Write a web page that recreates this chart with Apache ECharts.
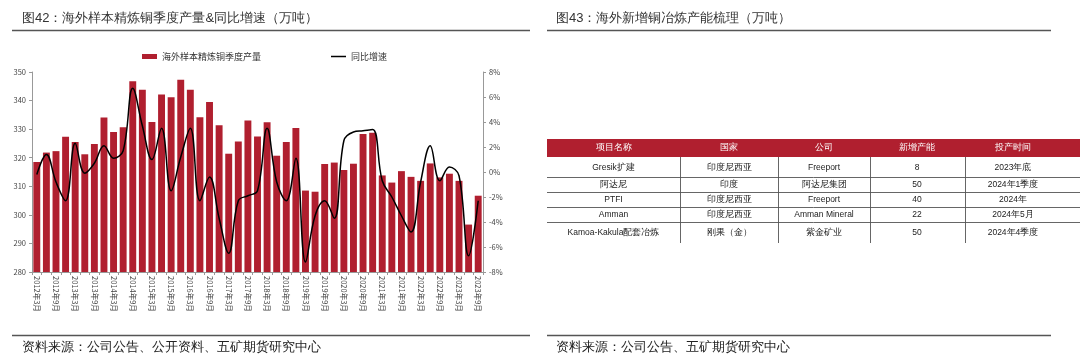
<!DOCTYPE html>
<html>
<head>
<meta charset="utf-8">
<script src="https://cdn.jsdelivr.net/npm/echarts@6/dist/echarts.min.js"></script>
<style>
html,body{margin:0;padding:0;background:#fff;}
#c{width:1080px;height:359px;}
</style>
</head>
<body>
<div id="c"></div>
<script>
// ---- data ----
var quarters = [];
(function(){
  for (var y = 2012; y <= 2023; y++) {
    for (var m = 3; m <= 12; m += 3) {
      if (y === 2023 && m > 9) break;
      quarters.push(y + '年' + m + '月');
    }
  }
})();
var outputValues = [318.5,321.8,322.3,327.3,325.5,321.2,324.8,334.1,329.0,330.7,346.8,343.8,332.5,342.1,341.2,347.3,
  343.8,334.2,339.5,331.4,321.4,325.7,333.0,327.4,332.4,320.7,325.5,330.4,308.5,308.1,317.8,318.3,
  315.7,317.9,328.3,328.7,313.8,311.3,315.3,313.3,311.9,318.0,313.1,314.4,311.9,296.6,306.7];
var yoyValues = [-0.2,1.4,-0.8,-2.3,2.3,-0.1,0.7,2.1,1.1,1.7,6.7,3.7,1.0,3.5,-1.5,1.2,
  3.5,-2.3,-0.4,-3.7,-6.5,-2.3,-1.9,-1.5,3.5,-0.8,-2.3,1.1,-7.2,-3.5,-2.3,-3.7,
  2.5,3.2,3.3,3.4,-0.7,-2.0,-3.5,-4.8,-0.8,2.1,-0.7,0.4,-0.3,-6.7,-2.3];
var seriesNames = ['海外样本精炼铜季度产量', '同比增速'];
var tableHeader = ['项目名称', '国家', '公司', '新增产能', '投产时间'];
var tableRows = [
  ['Gresik扩建', '印度尼西亚', 'Freeport', '8', '2023年底'],
  ['阿达尼', '印度', '阿达尼集团', '50', '2024年1季度'],
  ['PTFI', '印度尼西亚', 'Freeport', '40', '2024年'],
  ['Amman', '印度尼西亚', 'Amman Mineral', '22', '2024年5月'],
  ['Kamoa-Kakula配套冶炼', '刚果（金）', '紫金矿业', '50', '2024年4季度']
];
var leftTitle = '图42：海外样本精炼铜季度产量&同比增速（万吨）';
var rightTitle = '图43：海外新增铜冶炼产能梳理（万吨）';
var leftSource = '资料来源：公司公告、公开资料、五矿期货研究中心';
var rightSource = '资料来源：公司公告、五矿期货研究中心';

// ---- layout ----
var FONT = '"Noto Sans CJK SC", "Noto Sans", sans-serif';
var RED = '#B01F2F';
var graphics = [];
function txt(x, y, s, size, color, align, weight) {
  graphics.push({type:'text', x:x, y:y, style:{text:s, fontSize:size, fill:color, font: (weight||'normal') + ' ' + size + 'px ' + FONT, textAlign:align||'left', textVerticalAlign:'middle'}});
}
function line(x1, y1, x2, y2, color, w) {
  graphics.push({type:'line', shape:{x1:x1,y1:y1,x2:x2,y2:y2}, style:{stroke:color, lineWidth:w}});
}
// titles & rules
txt(22, 18, leftTitle, 13, '#333');
line(12, 30.5, 530, 30.5, '#555', 1.5);
line(12, 335.5, 530, 335.5, '#555', 1.5);
txt(22, 348, leftSource, 12.5, '#222');
txt(556, 18, rightTitle, 13, '#333');
line(547, 30.5, 1051, 30.5, '#555', 1.5);
line(547, 335.5, 1051, 335.5, '#555', 1.5);
txt(556, 348, rightSource, 12.5, '#222');

// table
var colBounds = [547, 680, 778, 870, 965];
var colCenters = [613.5, 729, 824, 917, 1013];
var rowBounds = [157, 177, 192, 207, 222, 243];
graphics.push({type:'rect', shape:{x:547, y:139, width:533, height:18}, style:{fill:RED}});
tableHeader.forEach(function(h, i){ txt(colCenters[i], 148, h, 9, '#fff', 'center'); });
for (var r = 0; r < tableRows.length; r++) {
  var y0 = rowBounds[r], y1 = rowBounds[r+1];
  tableRows[r].forEach(function(v, i){ txt(colCenters[i], (y0 + y1) / 2 + 0.5, v, 8.5, '#222', 'center'); });
  if (r < tableRows.length - 1) line(547, y1 + 0.5, 1080, y1 + 0.5, '#555', 0.9);
  for (var ci = 1; ci < colBounds.length; ci++) {
    line(colBounds[ci] + 0.5, y0, colBounds[ci] + 0.5, y1, '#555', 0.9);
  }
}

var chart = echarts.init(document.getElementById('c'));
chart.setOption({
  backgroundColor: '#fff',
  animation: false,
  textStyle: {fontFamily: FONT},
  legend: {
    left: 137, top: 47, itemGap: 70, itemWidth: 15, itemHeight: 5,
    textStyle: {fontSize: 9, color: '#333', fontFamily: FONT},
    data: [
      {name: seriesNames[0], icon: 'rect'},
      {name: seriesNames[1], icon: 'path://M0,0 L20,0 L20,2 L0,2 Z', itemStyle:{color:'#000'}}
    ]
  },
  grid: {left: 32, right: 597, top: 72, bottom: 87},
  xAxis: {
    type: 'category', data: quarters,
    axisLine: {onZero: false, lineStyle: {color: '#999'}},
    axisTick: {show: true, interval: 0, length: 3, lineStyle:{color:'#999'}},
    axisLabel: {interval: 1, rotate: -90, fontSize: 7.5, color: '#444', margin: 4, fontFamily: FONT}
  },
  yAxis: [
    {type: 'value', min: 280, max: 350, interval: 10,
     axisLine: {show: true, lineStyle: {color: '#999'}},
     axisTick: {show: true, length: 3, lineStyle:{color:'#999'}},
     splitLine: {show: false},
     axisLabel: {fontSize: 7.5, color: '#444', margin: 6}},
    {type: 'value', min: -8, max: 8, interval: 2, position: 'right',
     axisLine: {show: true, lineStyle: {color: '#999'}},
     axisTick: {show: true, length: 3, lineStyle:{color:'#999'}},
     splitLine: {show: false},
     axisLabel: {fontSize: 7.5, color: '#444', margin: 6, formatter: '{value}%'}}
  ],
  series: [
    {name: seriesNames[0], type: 'bar', data: outputValues, barCategoryGap: '28%', itemStyle: {color: RED}},
    {name: seriesNames[1], type: 'line', yAxisIndex: 1, data: yoyValues, smooth: 0.4, symbol: 'none',
     lineStyle: {color: '#000', width: 1.5}, itemStyle: {color: '#000'}}
  ],
  graphic: graphics
});
</script>
</body>
</html>
